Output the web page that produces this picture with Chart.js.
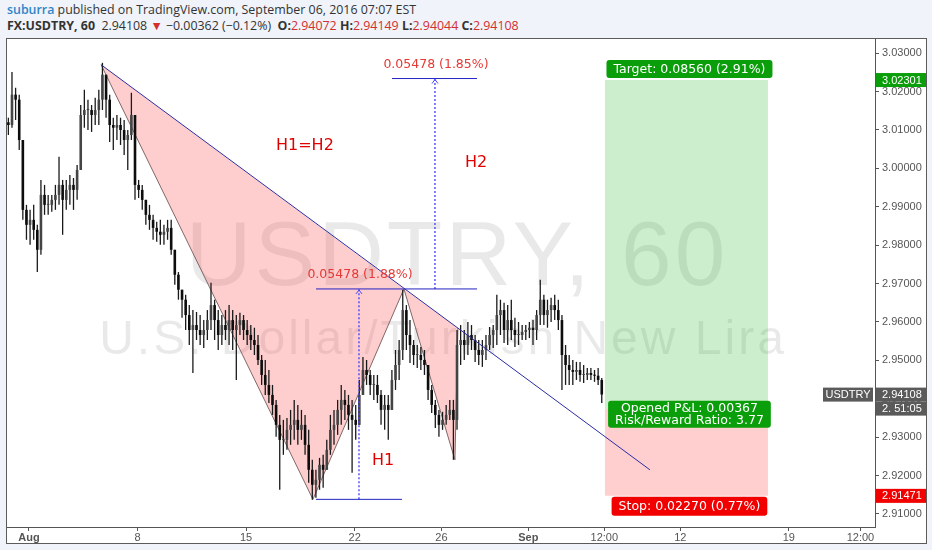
<!DOCTYPE html>
<html>
<head>
<meta charset="utf-8">
<script src="https://cdn.jsdelivr.net/npm/chart.js@4.4.1/dist/chart.umd.min.js"></script>
<style>
  html, body { margin: 0; padding: 0; width: 932px; height: 550px; overflow: hidden; background: #f0f3f9; }
  .hdr { position: absolute; left: 7px; font-family: "Open Sans", sans-serif; font-size: 12.4px; color: #333; white-space: nowrap; }
  #hdr1 { top: 1px; }
  #hdr2 { top: 17px; }
  .user { color: #2f86c8; font-weight: 600; }
  .dn { color: #d32f2f; }
  #frame { position: absolute; left: 6px; top: 38px; width: 919px; height: 504px; border: 1px solid #5b5b5b; background: #fff; }
  #chart { position: absolute; left: 0; top: 0; }
</style>
</head>
<body>
<div class="hdr" id="hdr1"><span class="user">suburra</span> published on TradingView.com, September 06, 2016 07:07 EST</div>
<div class="hdr" id="hdr2"><b>FX:USDTRY, 60</b>&nbsp; 2.94108 <span class="dn">&#9660;</span> &minus;0.00362 (&minus;0.12%) &nbsp;<b>O:</b><span class="dn">2.94072</span> <b>H:</b><span class="dn">2.94149</span> <b>L:</b><span class="dn">2.94044</span> <b>C:</b><span class="dn">2.94108</span></div>
<div id="frame"><canvas id="chart" width="919" height="504"></canvas></div>
<script>
// USDTRY 60, resampled to 4h bars; x axis counts trading days, 0 = Mon Aug 1
const firstBarDay = -0.95;
const barStep = 1 / 6;
const firstOpen = 3.0120;

const barHigh = [
  3.0132, 3.0251, 3.0210, 3.0192, 3.0048, 2.9905, 2.9892, 2.9905, 2.9853, 2.9970,
  2.9957, 2.9931, 2.9931, 2.9957, 3.0030, 2.9970, 2.9970, 2.9983, 2.9975, 3.0009,
  3.0165, 3.0205, 3.0179, 3.0165, 3.0184, 3.0205, 3.0275, 3.0244, 3.0192, 3.0132,
  3.0139, 3.0132, 3.0126, 3.0100, 3.0197, 3.0139, 2.9970, 2.9957, 2.9918, 2.9905,
  2.9879, 2.9861, 2.9866, 2.9853, 2.9866, 2.9866, 2.9775, 2.9730, 2.9684, 2.9671,
  2.9644, 2.9631, 2.9626, 2.9618, 2.9605, 2.9631, 2.9702, 2.9658, 2.9631, 2.9618,
  2.9631, 2.9644, 2.9631, 2.9618, 2.9624, 2.9618, 2.9605, 2.9592, 2.9585, 2.9566,
  2.9514, 2.9501, 2.9475, 2.9436, 2.9397, 2.9358, 2.9345, 2.9350, 2.9371, 2.9397,
  2.9384, 2.9371, 2.9358, 2.9319, 2.9241, 2.9215, 2.9246, 2.9254, 2.9293, 2.9358,
  2.9371, 2.9397, 2.9436, 2.9423, 2.9410, 2.9397, 2.9384, 2.9449, 2.9509, 2.9501,
  2.9475, 2.9462, 2.9462, 2.9423, 2.9410, 2.9410, 2.9475, 2.9527, 2.9553, 2.9684,
  2.9644, 2.9605, 2.9553, 2.9540, 2.9535, 2.9527, 2.9488, 2.9436, 2.9397, 2.9371,
  2.9366, 2.9384, 2.9397, 2.9397, 2.9579, 2.9592, 2.9579, 2.9600, 2.9592, 2.9566,
  2.9553, 2.9553, 2.9566, 2.9587, 2.9592, 2.9671, 2.9658, 2.9650, 2.9644, 2.9658,
  2.9611, 2.9600, 2.9592, 2.9592, 2.9600, 2.9605, 2.9631, 2.9710, 2.9671, 2.9658,
  2.9663, 2.9671, 2.9658, 2.9618, 2.9540, 2.9514, 2.9501, 2.9496, 2.9496, 2.9488,
  2.9480, 2.9480, 2.9475, 2.9480, 2.9454
];
const barLow = [
  3.0087, 3.0106, 3.0126, 3.0048, 2.9866, 2.9814, 2.9801, 2.9814, 2.9730, 2.9775,
  2.9879, 2.9879, 2.9887, 2.9892, 2.9905, 2.9827, 2.9892, 2.9905, 2.9892, 2.9918,
  2.9996, 3.0106, 3.0100, 3.0095, 3.0113, 3.0113, 3.0152, 3.0132, 3.0069, 3.0048,
  3.0074, 3.0061, 3.0035, 2.9996, 3.0074, 2.9918, 2.9923, 2.9892, 2.9853, 2.9840,
  2.9814, 2.9809, 2.9801, 2.9801, 2.9814, 2.9775, 2.9697, 2.9658, 2.9611, 2.9579,
  2.9540, 2.9467, 2.9553, 2.9540, 2.9532, 2.9553, 2.9579, 2.9553, 2.9527, 2.9540,
  2.9553, 2.9540, 2.9527, 2.9449, 2.9566, 2.9553, 2.9540, 2.9527, 2.9514, 2.9488,
  2.9436, 2.9410, 2.9389, 2.9358, 2.9301, 2.9163, 2.9254, 2.9267, 2.9280, 2.9293,
  2.9280, 2.9293, 2.9254, 2.9181, 2.9137, 2.9142, 2.9163, 2.9168, 2.9215, 2.9254,
  2.9280, 2.9306, 2.9332, 2.9345, 2.9319, 2.9207, 2.9293, 2.9332, 2.9423, 2.9436,
  2.9410, 2.9397, 2.9389, 2.9332, 2.9319, 2.9293, 2.9371, 2.9423, 2.9449, 2.9501,
  2.9527, 2.9493, 2.9488, 2.9480, 2.9475, 2.9462, 2.9397, 2.9363, 2.9324, 2.9301,
  2.9319, 2.9332, 2.9345, 2.9241, 2.9319, 2.9488, 2.9501, 2.9514, 2.9527, 2.9496,
  2.9488, 2.9483, 2.9501, 2.9527, 2.9532, 2.9540, 2.9566, 2.9545, 2.9540, 2.9553,
  2.9535, 2.9540, 2.9553, 2.9553, 2.9558, 2.9540, 2.9553, 2.9592, 2.9592, 2.9585,
  2.9600, 2.9605, 2.9579, 2.9423, 2.9436, 2.9436, 2.9436, 2.9449, 2.9444, 2.9441,
  2.9449, 2.9449, 2.9444, 2.9436, 2.9389
];
const barClose = [
  3.0113, 3.0192, 3.0179, 3.0074, 2.9892, 2.9853, 2.9866, 2.9840, 2.9788, 2.9931,
  2.9905, 2.9905, 2.9918, 2.9931, 2.9957, 2.9918, 2.9944, 2.9957, 2.9944, 2.9996,
  3.0139, 3.0152, 3.0152, 3.0139, 3.0152, 3.0179, 3.0244, 3.0179, 3.0113, 3.0106,
  3.0113, 3.0100, 3.0074, 3.0087, 3.0139, 2.9957, 2.9944, 2.9918, 2.9879, 2.9866,
  2.9845, 2.9835, 2.9827, 2.9835, 2.9845, 2.9788, 2.9723, 2.9684, 2.9658, 2.9618,
  2.9579, 2.9592, 2.9579, 2.9566, 2.9579, 2.9605, 2.9644, 2.9605, 2.9566, 2.9592,
  2.9579, 2.9605, 2.9579, 2.9592, 2.9605, 2.9579, 2.9566, 2.9553, 2.9540, 2.9501,
  2.9462, 2.9436, 2.9410, 2.9384, 2.9332, 2.9293, 2.9293, 2.9319, 2.9332, 2.9345,
  2.9319, 2.9332, 2.9280, 2.9215, 2.9176, 2.9189, 2.9228, 2.9215, 2.9267, 2.9319,
  2.9332, 2.9371, 2.9397, 2.9384, 2.9358, 2.9345, 2.9332, 2.9410, 2.9475, 2.9462,
  2.9436, 2.9436, 2.9410, 2.9371, 2.9384, 2.9371, 2.9449, 2.9488, 2.9527, 2.9631,
  2.9566, 2.9540, 2.9514, 2.9514, 2.9501, 2.9488, 2.9423, 2.9384, 2.9358, 2.9332,
  2.9345, 2.9358, 2.9371, 2.9345, 2.9540, 2.9553, 2.9540, 2.9566, 2.9553, 2.9527,
  2.9514, 2.9527, 2.9540, 2.9566, 2.9579, 2.9618, 2.9631, 2.9579, 2.9605, 2.9579,
  2.9566, 2.9566, 2.9574, 2.9579, 2.9585, 2.9579, 2.9618, 2.9658, 2.9618, 2.9631,
  2.9644, 2.9631, 2.9605, 2.9514, 2.9488, 2.9475, 2.9470, 2.9475, 2.9462, 2.9462,
  2.9467, 2.9462, 2.9460, 2.9449, 2.9411
];

const xTickDays = [0, 5, 10, 15, 19, 23, 26.5, 30, 35, 38.3];
const xTickLabels = ['Aug', '8', '15', '22', '26', 'Sep', '12:00', '12', '19', '12:00'];
const yTicks = [2.91, 2.92, 2.93, 2.94, 2.95, 2.96, 2.97, 2.98, 2.99, 3.00, 3.01, 3.02, 3.03];
const xRange = [-1.013, 38.97];
const yRange = [2.9066, 3.0337];

// drawings, as [trading day, price]
const triangleOne = [[3.32, 3.0270], [13.08, 2.9138], [17.27, 2.9686]];
const triangleTwo = [[17.27, 2.9686], [19.62, 2.9241], [19.76, 2.9584]];
const trendLine = [[3.32, 3.0270], [28.60, 2.9215]];
const measureLevels = [[13.22, 20.64, 2.9686], [13.22, 17.18, 2.9138], [16.72, 20.64, 3.0234]];
const measureArrows = [[15.20, 2.9138, 2.9686], [18.70, 2.9686, 3.0234]];
const measureTexts = ['0.05478 (1.88%)', '0.05478 (1.85%)'];
const patternNotes = [['H1=H2', 12.71, 3.0048], ['H1', 16.31, 2.9228], ['H2', 20.59, 3.0004]];

// long position tool
const positionDays = [26.53, 34.04];
const entryPrice = 2.93741;
const targetPrice = 3.02301;
const stopPrice = 2.91471;
const lastPrice = 2.94108;
const targetText = 'Target: 0.08560 (2.91%)';
const pnlText = ['Opened P&L: 0.00367', 'Risk/Reward Ratio: 3.77'];
const stopText = 'Stop: 0.02270 (0.77%)';

const bars = barClose.map((c, i) => {
  const open = i === 0 ? firstOpen : barClose[i - 1];
  return {
    x: firstBarDay + i * barStep,
    open: open,
    close: c,
    lo: Math.min(barLow[i], open, c),
    hi: Math.max(barHigh[i], open, c)
  };
});

const pt = p => ({x: p[0], y: p[1]});
const lineSet = (points, extra) => Object.assign({
  type: 'line', data: points.map(pt), pointRadius: 0, borderWidth: 1, tension: 0, fill: false
}, extra);

const d0 = positionDays[0], d1 = positionDays[1];
const datasets = [
  lineSet([[d0, entryPrice], [d0, targetPrice], [d1, targetPrice], [d1, entryPrice]],
    {fill: 'shape', backgroundColor: 'rgba(0, 170, 0, 0.2)', borderWidth: 0, order: 10}),
  lineSet([[d0, entryPrice], [d0, stopPrice], [d1, stopPrice], [d1, entryPrice]],
    {fill: 'shape', backgroundColor: 'rgba(255, 0, 0, 0.19)', borderWidth: 0, order: 10}),
  lineSet(triangleOne, {fill: 'shape', backgroundColor: 'rgba(250, 70, 70, 0.27)', borderColor: 'rgba(115, 90, 90, 0.9)', order: 9}),
  lineSet(triangleTwo, {fill: 'shape', backgroundColor: 'rgba(250, 70, 70, 0.27)', borderColor: 'rgba(115, 90, 90, 0.9)', order: 9}),
  {
    type: 'bar', data: bars.map(b => ({x: b.x, y: [b.lo, b.hi]})),
    backgroundColor: '#1a1a1a', grouped: false, maxBarThickness: 1.3, borderWidth: 0, order: 3
  },
  {
    type: 'bar', data: bars.map(b => ({x: b.x, y: [b.open, b.close]})),
    backgroundColor: bars.map(b => b.close >= b.open ? '#444' : '#0d0d0d'),
    grouped: false, maxBarThickness: 2.8, minBarLength: 1, borderWidth: 0, order: 2
  },
  lineSet(trendLine, {borderColor: '#2b2ba6', order: 0})
];
measureLevels.forEach(m => datasets.push(lineSet([[m[0], m[2]], [m[1], m[2]]], {borderColor: '#2323c4', order: 0})));
measureArrows.forEach(m => datasets.push(lineSet([[m[0], m[1]], [m[0], m[2]]], {borderColor: '#4848ff', borderWidth: 1.4, borderDash: [2, 2], order: 0})));

const box = (ctx, x, y, w, h, color) => {
  ctx.fillStyle = color;
  ctx.beginPath();
  if (ctx.roundRect) ctx.roundRect(x, y, w, h, 3); else ctx.rect(x, y, w, h);
  ctx.fill();
};

const overlay = {
  id: 'overlay',
  beforeDatasetsDraw(chart) {
    const {ctx, chartArea: a} = chart;
    ctx.save();
    ctx.beginPath();
    ctx.rect(a.left, a.top, a.width, a.height);
    ctx.clip();
    ctx.fillStyle = 'rgba(0, 0, 0, 0.085)';
    ctx.textAlign = 'center';
    ctx.textBaseline = 'alphabetic';
    ctx.letterSpacing = '3px';
    ctx.font = '91px "Liberation Sans", Arial, sans-serif';
    ctx.fillText('USDTRY, 60', a.left + 450, a.top + 246);
    ctx.font = '48px "Liberation Sans", Arial, sans-serif';
    ctx.fillText('U.S. Dollar/Turkish New Lira', a.left + 436, a.top + 315);
    ctx.restore();
  },
  afterDatasetsDraw(chart) {
    const {ctx} = chart;
    const X = v => chart.scales.x.getPixelForValue(v);
    const Y = v => chart.scales.y.getPixelForValue(v);
    ctx.save();
    // arrow heads on the dotted measure lines
    ctx.strokeStyle = '#4848ff';
    ctx.lineWidth = 1;
    measureArrows.forEach(m => {
      const x = X(m[0]), y = Y(m[2]);
      ctx.beginPath();
      ctx.moveTo(x - 3, y + 5);
      ctx.lineTo(x, y + 1);
      ctx.lineTo(x + 3, y + 5);
      ctx.stroke();
    });
    ctx.textAlign = 'center';
    ctx.textBaseline = 'alphabetic';
    ctx.fillStyle = '#e53935';
    ctx.font = '12.5px "DejaVu Sans", Verdana, sans-serif';
    measureArrows.forEach((m, i) => ctx.fillText(measureTexts[i], X(m[0]) + 1, Y(m[2]) - 11));
    ctx.fillStyle = '#e00000';
    ctx.font = '16px "DejaVu Sans", Verdana, sans-serif';
    patternNotes.forEach(n => ctx.fillText(n[0], X(n[1]), Y(n[2])));

    // position tool labels
    const cx = (X(d0) + X(d1)) / 2 + 3;
    ctx.font = '12.5px "DejaVu Sans", Verdana, sans-serif';
    ctx.textBaseline = 'middle';
    let w = ctx.measureText(targetText).width + 14;
    let top = Y(targetPrice) - 20;
    box(ctx, cx - w / 2, top, w, 18, '#0a9e0a');
    ctx.fillStyle = '#fff';
    ctx.fillText(targetText, cx, top + 9.5);

    w = Math.max(...pnlText.map(t => ctx.measureText(t).width)) + 14;
    top = Y(entryPrice) - 8;
    box(ctx, cx - w / 2, top, w, 27, '#0a9e0a');
    ctx.fillStyle = '#fff';
    ctx.fillText(pnlText[0], cx, top + 8);
    ctx.fillText(pnlText[1], cx, top + 20);

    w = ctx.measureText(stopText).width + 14;
    top = Y(stopPrice) + 1;
    box(ctx, cx - w / 2, top, w, 19, '#f20000');
    ctx.fillStyle = '#fff';
    ctx.fillText(stopText, cx, top + 10);
    ctx.restore();
  },
  afterDraw(chart) {
    const {ctx, chartArea: a, width} = chart;
    const Y = v => chart.scales.y.getPixelForValue(v);
    ctx.save();
    ctx.font = '11px "Liberation Sans", Arial, sans-serif';
    ctx.textBaseline = 'middle';
    ctx.textAlign = 'left';
    const tag = (price, color, text, dy) => {
      const y = Y(price) + dy;
      ctx.fillStyle = color;
      ctx.fillRect(a.right + 1, y - 7, width - a.right - 1, 14);
      ctx.fillStyle = '#fff';
      ctx.fillText(text, a.right + 7, y + 0.5);
    };
    tag(targetPrice, '#0a9e0a', targetPrice.toFixed(5), 0);
    tag(lastPrice, '#5a5a5a', lastPrice.toFixed(5), 0);
    tag(lastPrice, '#5a5a5a', '2. 51:05', 14);
    tag(stopPrice, '#f20000', stopPrice.toFixed(5), 0);
    const y = Y(lastPrice);
    ctx.fillStyle = '#5a5a5a';
    ctx.fillRect(a.right - 52, y - 7, 50, 14);
    ctx.fillStyle = '#fff';
    ctx.textAlign = 'center';
    ctx.fillText('USDTRY', a.right - 27, y + 0.5);
    ctx.restore();
  }
};

const axisFont = {family: '"Liberation Sans", Arial, sans-serif', size: 11};

const priceChart = new Chart(
  document.getElementById('chart').getContext('2d'),
  {
    type: 'bar',
    data: {datasets: datasets},
    options: {
      responsive: false,
      animation: false,
      layout: {padding: 0},
      plugins: {legend: {display: false}, tooltip: {enabled: false}},
      scales: {
        x: {
          type: 'linear',
          min: xRange[0],
          max: xRange[1],
          offset: false,
          afterBuildTicks: s => { s.ticks = xTickDays.map(v => ({value: v})); },
          afterFit: s => { s.height = 16; s.paddingLeft = 0; s.paddingRight = 0; },
          grid: {offset: false, drawOnChartArea: false, drawTicks: true, tickLength: 4, color: '#555'},
          border: {display: true, color: '#555'},
          ticks: {
            autoSkip: false,
            maxRotation: 0,
            padding: 0,
            color: '#555',
            font: ctx => ({family: axisFont.family, size: 11,
              weight: /^[A-Z]/.test(xTickLabels[ctx.index] || '') ? 'bold' : 'normal'}),
            callback: (v, i) => xTickLabels[i]
          }
        },
        y: {
          type: 'linear',
          position: 'right',
          min: yRange[0],
          max: yRange[1],
          afterBuildTicks: s => { s.ticks = yTicks.map(v => ({value: v})); },
          afterFit: s => { s.width = 51; s.paddingTop = 0; s.paddingBottom = 0; },
          grid: {drawOnChartArea: false, drawTicks: true, tickLength: 4, color: '#555'},
          border: {display: true, color: '#555'},
          ticks: {padding: 3, color: '#555', font: axisFont, callback: v => v.toFixed(5)}
        }
      }
    },
    plugins: [overlay]
  }
);
</script>
</body>
</html>
